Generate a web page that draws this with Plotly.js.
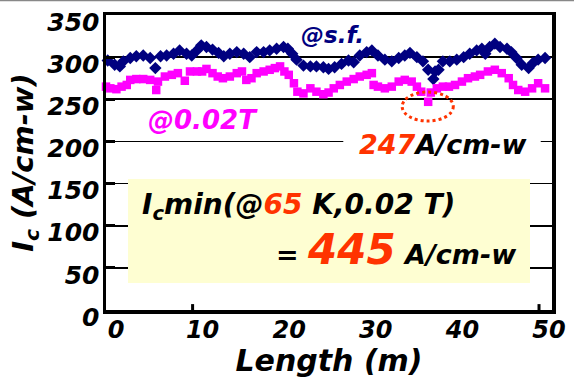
<!DOCTYPE html>
<html><head><meta charset="utf-8">
<script src="https://cdn.plot.ly/plotly-3.0.1.min.js"></script>
<style>html,body{margin:0;padding:0;background:#fff;}</style>
</head><body>
<div id="chart" style="width:574px;height:378px;"></div>
<script>
// Ic at self-field (blue diamonds)
const sfLength = [0.2,1.0,1.6,2.0,2.8,3.5,4.3,5.1,5.7,6.3,7.0,7.8,8.5,9.3,9.9,10.5,11.0,11.6,12.3,13.0,13.6,14.3,15.1,15.9,16.6,17.4,18.2,18.9,19.7,20.5,21.0,21.5,22.0,22.8,23.6,24.3,25.1,25.7,26.4,27.2,28.0,28.6,29.3,30.1,30.7,31.4,32.2,33.0,33.8,34.5,35.1,35.9,36.6,37.2,37.8,38.0,38.4,38.9,39.7,40.5,41.3,42.0,42.8,43.4,43.8,44.3,44.9,45.5,46.3,46.8,47.4,48.0,48.8,49.3,49.9,50.7];
const sfIc =     [296,291,289,295,299,301,302,299,287,301,302,304,308,304,302,308,314,312,309,305,301,304,306,304,300,306,306,308,310,312,310,304,297,290,289,289,288,286,288,292,296,294,302,306,308,302,297,295,299,302,305,300,295,285,274,283,285,295,295,297,300,304,308,310,304,312,316,312,310,306,299,291,287,293,297,299];
// Ic at 0.02 T (magenta squares)
const tLength = [0.0,0.5,1.2,1.8,2.4,2.8,3.5,4.3,5.1,5.8,6.0,6.8,7.6,8.3,9.1,9.7,10.5,11.1,11.6,12.3,12.9,13.5,14.3,15.1,15.7,16.2,16.8,17.4,18.2,18.9,19.5,20.1,20.6,21.1,21.7,22.1,22.8,23.6,24.3,25.1,25.7,26.3,27.0,27.8,28.6,29.3,30.1,30.7,30.9,31.4,32.2,33.0,33.8,34.5,35.3,35.9,36.4,37.2,37.5,38.2,38.9,39.6,40.3,41.1,41.8,42.6,43.2,44.1,44.9,45.7,46.5,47.0,47.6,48.4,49.2,49.9,50.7];
const tIc =     [265,263,262,265,267,273,274,274,273,261,271,277,279,281,272,283,283,283,286,281,277,275,277,281,283,273,275,281,283,285,287,289,283,279,269,259,257,263,259,256,258,263,267,271,274,277,279,281,267,265,263,265,271,273,271,265,259,247,258,263,265,265,267,271,275,277,279,283,285,281,275,267,261,259,263,269,263];
const xTicks = [0,10,20,30,40,50];
const yTicks = [0,50,100,150,200,250,300,350];

const F = "DejaVu Sans";
const traces = [
  {x: sfLength, y: sfIc, type:'scatter', mode:'markers', name:'@s.f.',
   marker:{symbol:'diamond', size:9.5, color:'#000080'}, cliponaxis:false},
  {x: tLength, y: tIc, type:'scatter', mode:'markers', name:'@0.02T',
   marker:{symbol:'square', size:8.5, color:'#FF00FF'}, cliponaxis:false}
];
const layout = {
  width:574, height:378,
  margin:{l:106, r:22, t:15, b:68},
  paper_bgcolor:'#fff', plot_bgcolor:'#fff',
  showlegend:false,
  font:{family:F, weight:'bold', style:'italic', color:'#000'},
  xaxis:{range:[0,51.5], tickvals:xTicks, ticktext:xTicks.map(String), ticks:'',
    showgrid:false, zeroline:false, showline:true, linewidth:3.5, linecolor:'#000', mirror:true,
    tickfont:{family:F, size:24, weight:'bold', style:'italic', color:'#000'},
    ticklabelshift:10, ticklabelstandoff:-4, ticklabeloverflow:'allow',
    title:{text:'Length (m)', font:{family:F, size:30, weight:'bold', style:'italic', color:'#000'}, standoff:23}},
  yaxis:{range:[0,350], tickvals:yTicks, ticktext:yTicks.map(String), ticks:'inside', ticklen:9, tickwidth:3, tickcolor:'#000',
    showgrid:true, gridcolor:'#000', gridwidth:1.8, zeroline:false, showline:true, linewidth:3.5, linecolor:'#000', mirror:true,
    tickfont:{family:F, size:25, weight:'bold', style:'italic', color:'#000'},
    ticklabelshift:7, ticklabelstandoff:-2, ticklabeloverflow:'allow',
    title:{text:'I<sub>c</sub> (A/cm-w)', font:{family:F, size:29, weight:'bold', style:'italic', color:'#000'}, standoff:6}},
  shapes:[
    {type:'rect', xref:'x', yref:'y', x0:2.54, x1:48.96, y0:32, y1:155.4, fillcolor:'#FEFED2', line:{width:0}, layer:'above'},
    {type:'rect', xref:'x', yref:'y', x0:27.4, x1:50.2, y0:190, y1:210, fillcolor:'#FFFFFF', line:{width:0}, layer:'above'},
    {type:'circle', xref:'x', yref:'y', x0:34.2, x1:40.1, y0:224.2, y1:258.6, line:{color:'#FF3300', width:3, dash:'dot'}, layer:'above'},
    {type:'line', xref:'x', yref:'y', x0:10, x1:10, y0:0, y1:7, line:{color:'#000', width:3}},
    {type:'line', xref:'x', yref:'y', x0:50, x1:50, y0:0, y1:7, line:{color:'#000', width:3}},
    {type:'line', xref:'paper', yref:'paper', x0:-0.24, x1:1.05, y0:1.049, y1:1.049, line:{color:'#888', width:1.5}}
  ],
  annotations:[
    {xref:'x', yref:'y', x:26.2, y:326, text:'@s.f.', showarrow:false,
     font:{family:F, size:23, weight:'bold', style:'italic', color:'#000080'}},
    {xref:'x', yref:'y', x:11.2, y:226, text:'@0.02T', showarrow:false,
     font:{family:F, size:26, weight:'bold', style:'italic', color:'#FF00FF'}},
    {xref:'x', yref:'y', x:38.9, y:196, text:'<span style="color:#FF3300">247</span>A/cm-w', showarrow:false,
     font:{family:F, size:27, weight:'bold', style:'italic', color:'#000'}},
    {xref:'x', yref:'y', x:22.2, y:123, text:'I<sub>c</sub>min(@<span style="color:#FF3300">65</span> K,0.02 T)', showarrow:false,
     font:{family:F, size:28, weight:'bold', style:'italic', color:'#000'}},
    {xref:'x', yref:'y', x:33.6, y:72, text:'= <span style="color:#FF3300;font-size:42px">445</span> A/cm-w', showarrow:false,
     font:{family:F, size:27, weight:'bold', style:'italic', color:'#000'}}
  ]
};
Plotly.newPlot('chart', traces, layout, {displayModeBar:false, staticPlot:true});
</script>
</body></html>
